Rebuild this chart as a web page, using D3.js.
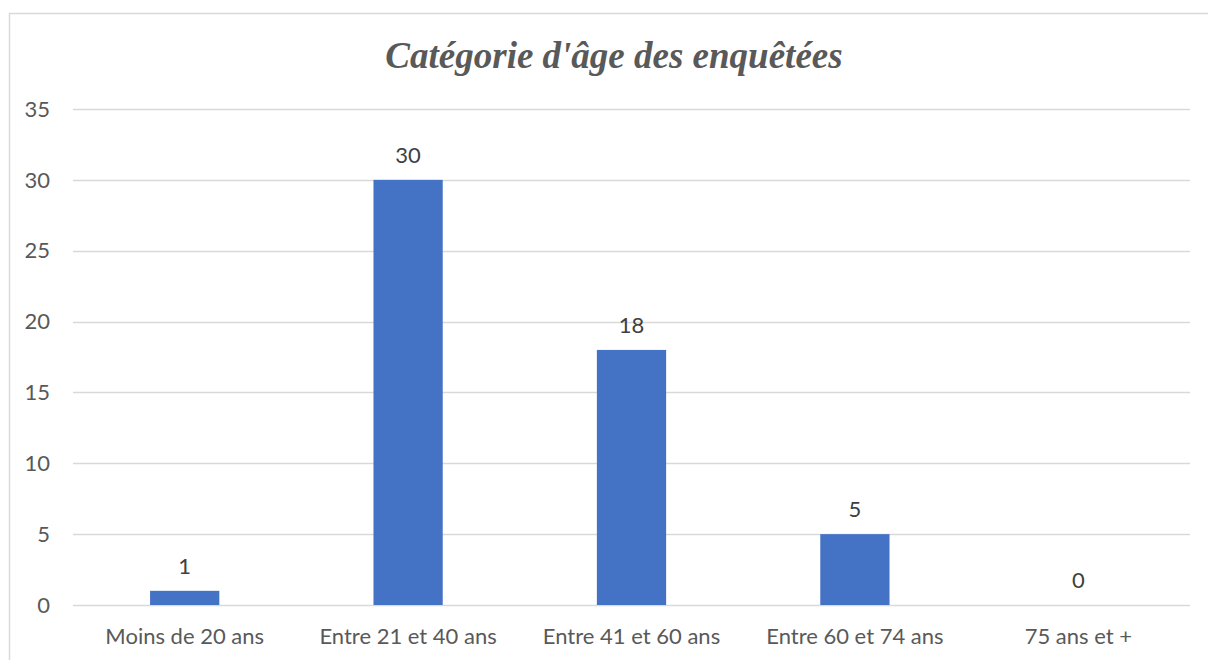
<!DOCTYPE html>
<html>
<head>
<meta charset="utf-8">
<script src="https://cdn.jsdelivr.net/npm/d3@7"></script>
<style>
  body { margin: 0; background: #fff; }
  svg { display: block; }
</style>
</head>
<body>
<svg id="chart" width="1208" height="660"></svg>
<script>
// Catégorie d'âge des enquêtées -- bar chart

var categories = ["Moins de 20 ans", "Entre 21 et 40 ans", "Entre 41 et 60 ans", "Entre 60 et 74 ans", "75 ans et +"];
var counts = [1, 30, 18, 5, 0];
var yTicks = [0, 5, 10, 15, 20, 25, 30, 35];

var svg = d3.select("#chart");
var labelFont = "Lato, 'Open Sans', sans-serif";

// chart frame (right side runs off the picture)
svg.append("rect")
  .attr("x", 9.5).attr("y", 13.5)
  .attr("width", 1220).attr("height", 680)
  .attr("fill", "none")
  .attr("stroke", "#d9d9d9")
  .attr("stroke-width", 1.5);

var x = d3.scaleBand()
  .domain(categories)
  .range([73, 1190])
  .paddingInner(0.69)
  .paddingOuter(0.345);

var y = d3.scaleLinear()
  .domain([0, 35])
  .range([605, 109]);

// gridlines
svg.append("g")
  .selectAll("line")
  .data(yTicks)
  .enter().append("line")
  .attr("x1", 73).attr("x2", 1190)
  .attr("y1", function (d) { return Math.round(y(d)) + 0.5; })
  .attr("y2", function (d) { return Math.round(y(d)) + 0.5; })
  .attr("stroke", "#d9d9d9")
  .attr("stroke-width", 1.3);

// y tick labels
svg.append("g")
  .selectAll("text")
  .data(yTicks)
  .enter().append("text")
  .attr("x", 50)
  .attr("y", function (d) { return y(d); })
  .attr("dy", "0.35em")
  .attr("text-anchor", "end")
  .attr("font-family", labelFont)
  .attr("font-size", 22)
  .attr("fill", "#595959")
  .text(function (d) { return d; });

// bars
svg.append("g")
  .selectAll("rect")
  .data(counts)
  .enter().append("rect")
  .attr("x", function (d, i) { return x(categories[i]); })
  .attr("width", x.bandwidth())
  .attr("y", function (d) { return y(d); })
  .attr("height", function (d) { return y(0) - y(d); })
  .attr("fill", "#4472c4");

// value labels
svg.append("g")
  .selectAll("text")
  .data(counts)
  .enter().append("text")
  .attr("x", function (d, i) { return x(categories[i]) + x.bandwidth() / 2; })
  .attr("y", function (d) { return y(d) - 17; })
  .attr("text-anchor", "middle")
  .attr("font-family", labelFont)
  .attr("font-size", 22)
  .attr("fill", "#404040")
  .text(function (d) { return d; });

// category labels
svg.append("g")
  .selectAll("text")
  .data(categories)
  .enter().append("text")
  .attr("x", function (d) { return x(d) + x.bandwidth() / 2; })
  .attr("y", 644)
  .attr("text-anchor", "middle")
  .attr("font-family", labelFont)
  .attr("font-size", 22)
  .attr("fill", "#595959")
  .text(function (d) { return d; });

// title
svg.append("text")
  .attr("x", 614)
  .attr("y", 68)
  .attr("text-anchor", "middle")
  .attr("font-family", "'Liberation Serif', 'Times New Roman', serif")
  .attr("font-style", "italic")
  .attr("font-weight", "bold")
  .attr("font-size", 37)
  .attr("fill", "#595959")
  .text("Catégorie d'âge des enquêtées");
</script>
</body>
</html>
